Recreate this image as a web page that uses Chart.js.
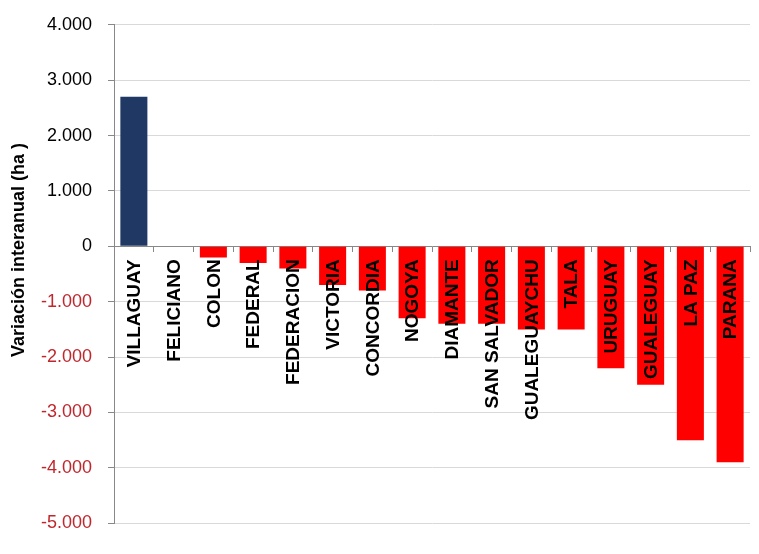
<!DOCTYPE html>
<html>
<head>
<meta charset="utf-8">
<script src="https://cdn.jsdelivr.net/npm/chart.js@4/dist/chart.umd.min.js"></script>
<style>
  html, body { margin: 0; padding: 0; background: #fff; overflow: hidden; }
  #wrap { position: relative; top: -2px; width: 759px; height: 552px; }
</style>
</head>
<body>
<div id="wrap"><canvas id="variacion"></canvas></div>
<script>
var departamentos = ['VILLAGUAY', 'FELICIANO', 'COLON', 'FEDERAL', 'FEDERACION', 'VICTORIA', 'CONCORDIA', 'NOGOYA',
    'DIAMANTE', 'SAN SALVADOR', 'GUALEGUAYCHU', 'TALA', 'URUGUAY', 'GUALEGUAY', 'LA PAZ', 'PARANA'];
var variacion = [2700, 0, -200, -300, -400, -700, -800, -1300, -1400, -1400, -1500, -1500, -2200, -2500, -3500, -3900];
var ejeMin = -5000;
var ejeMax = 4000;
var ejePaso = 1000;

function fmtMiles(v) {
    var s = Math.abs(v).toString().replace(/\B(?=(\d{3})+(?!\d))/g, '.');
    return (v < 0 ? '-' : '') + s;
}

// category names drawn rotated, just under the zero line
var etiquetas = {
    id: 'etiquetas',
    afterDatasetsDraw: function(chart) {
        var ctx = chart.ctx;
        var x = chart.scales.x, y = chart.scales.y;
        var y0 = y.getPixelForValue(0);
        ctx.save();
        ctx.font = 'bold 19px "Liberation Sans", Arial, sans-serif';
        ctx.fillStyle = '#000';
        ctx.textAlign = 'right';
        ctx.textBaseline = 'middle';
        departamentos.forEach(function(d, i) {
            ctx.save();
            ctx.translate(x.getPixelForValue(i) + 1, y0 + 13);
            ctx.rotate(-Math.PI / 2);
            ctx.fillText(d, 0, 0);
            ctx.restore();
        });
        // axis title
        ctx.font = 'bold 18px "Liberation Sans", Arial, sans-serif';
        ctx.textAlign = 'center';
        ctx.translate(19, 252);
        ctx.rotate(-Math.PI / 2);
        ctx.fillText('Variación interanual (ha )', 0, 0);
        ctx.restore();
    }
};

var ctx = document.getElementById('variacion').getContext('2d');
var grafico = new Chart(ctx, {
    type: 'bar',
    data: {
        labels: departamentos,
        datasets: [{
            data: variacion,
            backgroundColor: variacion.map(function(v) { return v > 0 ? '#1f3864' : '#ff0000'; }),
            borderWidth: 0,
            barPercentage: 0.68,
            categoryPercentage: 1.0
        }]
    },
    options: {
        responsive: true,
        maintainAspectRatio: false,
        animation: false,
        layout: { padding: { top: 13, right: 9, bottom: 26, left: 0 } },
        scales: {
            y: {
                min: ejeMin,
                max: ejeMax,
                afterFit: function(scale) { scale.width = 114; },
                ticks: {
                    stepSize: ejePaso,
                    padding: 16,
                    font: { family: '"Liberation Sans", Arial, sans-serif', size: 18 },
                    color: function(c) { return c.tick.value < 0 ? '#c0272d' : '#000'; },
                    callback: function(v) { return fmtMiles(v); }
                },
                grid: {
                    color: '#d9d9d9',
                    tickColor: '#888',
                    tickLength: 6
                },
                border: { color: '#888' }
            },
            x: {
                position: { y: 0 },
                ticks: { display: false },
                grid: {
                    drawOnChartArea: false,
                    tickColor: '#888',
                    tickLength: 5,
                    offset: true
                },
                border: { color: '#888' }
            }
        },
        plugins: {
            legend: { display: false },
            tooltip: { enabled: false }
        }
    },
    plugins: [etiquetas]
});
</script>
</body>
</html>
